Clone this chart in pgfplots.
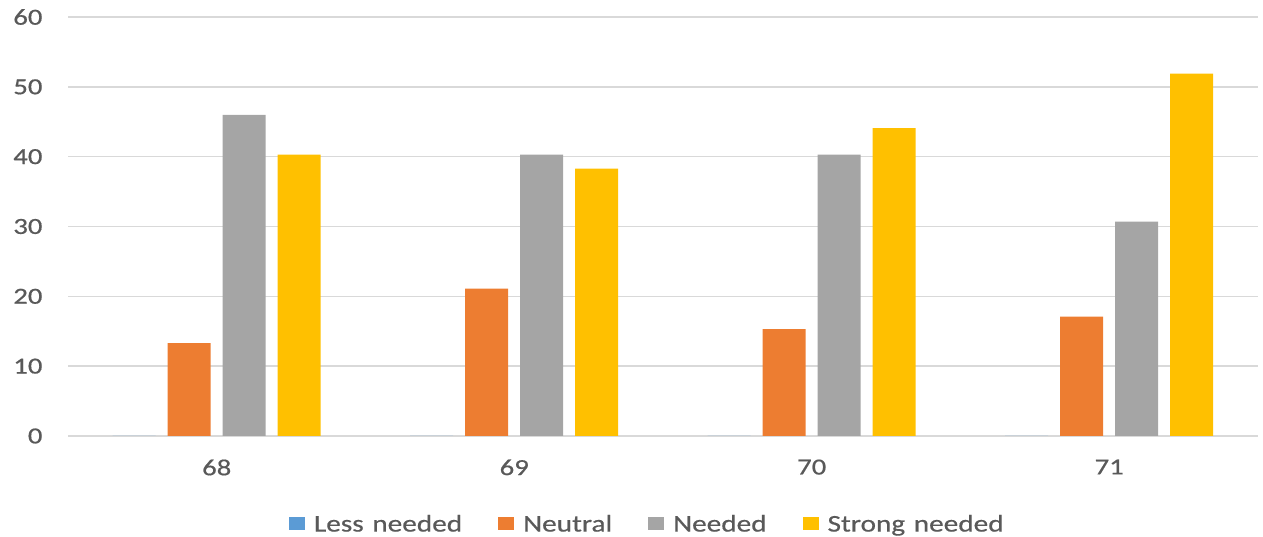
\documentclass[border=0pt]{standalone}
\usepackage{pgfplots}
\pgfplotsset{compat=1.18}
\usepackage{fontspec}
\setmainfont{Carlito}
\newfontfamily\tickfont{Carlito}[FakeStretch=1.25, FakeBold=0.6]
\newfontfamily\legfont{Carlito}[FakeStretch=1.22, FakeBold=0.5, WordSpace=1.3]
\definecolor{cBlue}{HTML}{5B9BD5}
\definecolor{cOrange}{HTML}{ED7D31}
\definecolor{cGray}{HTML}{A5A5A5}
\definecolor{cYellow}{HTML}{FFC000}
\definecolor{cText}{HTML}{595959}
\definecolor{cGrid}{HTML}{D9D9D9}
\begin{document}
\begin{tikzpicture}
\begin{axis}[
  at={(68pt,101pt)}, anchor=south west,
  width=1190pt, height=419pt, scale only axis,
  ybar=12pt, bar width=43pt,
  xmin=-0.5, xmax=3.5, ymin=0, ymax=60,
  xtick={0,1,2,3}, xticklabels={68,69,70,71},
  ytick={0,10,...,60},
  ymajorgrids, grid style={cGrid, line width=1.5pt},
  axis line style={draw=none},
  major tick length=0pt,
  /pgf/number format/assume math mode=true,
  ticklabel style={font=\tickfont\fontsize{23}{26}\selectfont, text=cText},
  yticklabel style={anchor=east, xshift=-22pt},
  xticklabel style={anchor=north, yshift=-20pt},
  legend style={at={(rel axis cs:0.183,-0.21)}, anchor=west, draw=none,
    font=\legfont\fontsize{24}{27}\selectfont, text=cText, legend columns=4,
    /tikz/every even column/.append style={column sep=34pt},
    /tikz/every odd column/.append style={column sep=7pt},
    fill=none},
  legend image code/.code={\fill[#1] (0pt,-6.5pt) rectangle (16pt,6.5pt);},
]
\addplot[fill=cBlue, draw=none] coordinates {(0,0) (1,0) (2,0) (3,0)};
\addplot[fill=cOrange, draw=none] coordinates {(0,13.3) (1,21.1) (2,15.3) (3,17.1)};
\addplot[fill=cGray, draw=none] coordinates {(0,46.0) (1,40.3) (2,40.3) (3,30.7)};
\addplot[fill=cYellow, draw=none] coordinates {(0,40.3) (1,38.3) (2,44.1) (3,51.9)};
\legend{Less needed, Neutral, Needed, Strong needed}
\end{axis}
\pgfresetboundingbox
\path[use as bounding box] (0,0) rectangle (1263pt,537pt);
\end{tikzpicture}
\end{document}
